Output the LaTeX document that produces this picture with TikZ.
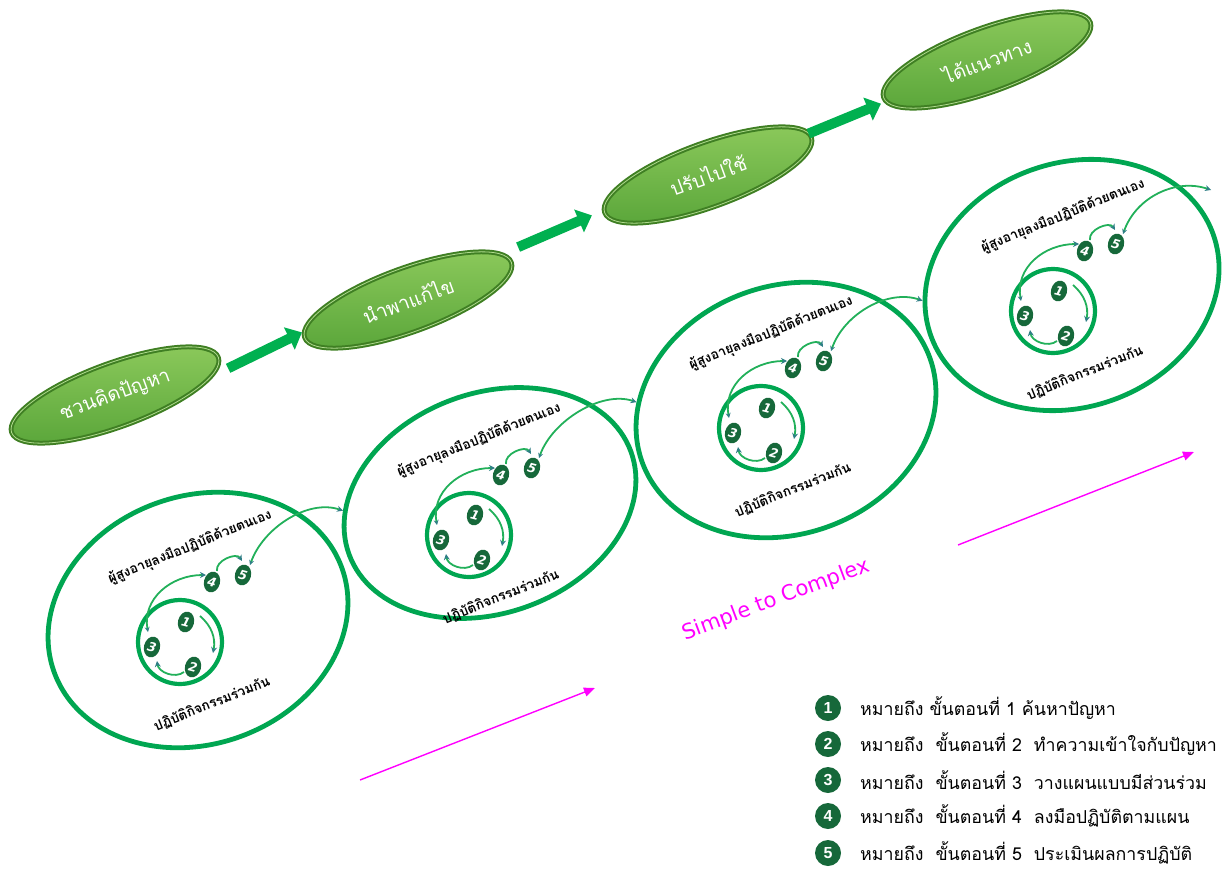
\documentclass[tikz,border=0pt]{standalone}
\usepackage{fontspec}
\setmainfont{Liberation Sans}
\newfontfamily\thai[Script=Thai]{Loma}
\newfontfamily\dejavu{DejaVu Sans}
\usetikzlibrary{shapes.geometric,arrows.meta,calc}

\definecolor{ringgreen}{HTML}{00A651}
\definecolor{flowgreen}{HTML}{22B05A}
\definecolor{tipblue}{HTML}{2F7F86}
\definecolor{badgegreen}{HTML}{16683A}
\definecolor{pilllight}{HTML}{8DCA5C}
\definecolor{pilldark}{HTML}{5AA63A}
\definecolor{pilledge}{HTML}{3F7F23}
\definecolor{bigarrowgreen}{HTML}{00B050}
\definecolor{mag}{HTML}{FF00FF}

\tikzset{
 bigring/.style={ellipse, draw=ringgreen, line width=4.8pt, inner sep=0pt, rotate=20},
 smallring/.style={circle, draw=ringgreen, line width=4.2pt, minimum size=84pt, inner sep=0pt},
 badge/.style={ellipse, fill=badgegreen, minimum width=16pt, minimum height=21pt, inner sep=0pt, rotate=-15, text=white, font=\dejavu\fontsize{12.5}{12.5}\selectfont\bfseries\itshape},
 unitlabel/.style={rotate=22, font=\thai\bfseries\fontsize{13.5}{14}\selectfont, inner sep=0pt},
 flow/.style={draw=flowgreen, line width=1.8pt, -{Stealth[length=6pt,width=6pt,color=tipblue]}},
 flowboth/.style={draw=flowgreen, line width=1.8pt, {Stealth[length=5pt,width=5pt,color=tipblue]}-{Stealth[length=6pt,width=6pt,color=tipblue]}},
 pill/.style={ellipse, rotate=20, minimum width=220pt, minimum height=64pt, top color=pilllight, bottom color=pilldark, draw=pilledge, line width=2pt, double=pilllight!70!white, double distance=0.8pt, text=white, font=\thai\fontsize{19.5}{19.5}\selectfont, inner sep=0pt},
 bigarrow/.style={draw=bigarrowgreen, line width=10pt, -{Triangle[length=14pt,width=24pt]}},
 magarrow/.style={draw=mag, line width=1.4pt, -{Triangle[length=11pt,width=9pt]}},
 legbadge/.style={circle, fill=badgegreen, minimum size=26pt, inner sep=0pt, text=white, font=\fontsize{16}{16}\selectfont\bfseries},
 legtext/.style={anchor=west, inner sep=0pt, font=\thai\fontsize{17.8}{17.8}\selectfont},
}

% one stage: #1 prefix, #2,#3 centre of small ring, #4 target of outgoing arrow
\newcommand\stageunit[4]{%
 \begin{scope}[shift={(#2,#3)}]
  \node[smallring] (#1c) at (0,0) {};
  \node[badge] (#1b1) at (6,-20) {1};
  \node[badge] (#1b2) at (13,25) {2};
  \node[badge] (#1b3) at (-28,5) {3};
  \node[badge] (#1b4) at (32,-60) {4};
  \node[badge] (#1b5) at (63,-67) {5};
  \node[unitlabel] (#1t) at (10,-95) {ผู้สูงอายุลงมือปฏิบัติด้วยตนเอง};
  \node[unitlabel] (#1l) at (32,62) {ปฏิบัติกิจกรรมร่วมกัน};
  \draw[flow] ([shift={(14,-6)}]#1b1.center) to[bend left=30] ([shift={(20,-14)}]#1b2.center);
  \draw[flow] ([shift={(-9,5)}]#1b2.center) to[bend left=60] ([shift={(5,14)}]#1b3.center);
  \draw[flowboth] ([shift={(-4,-15)}]#1b3.center) .. controls +(-6,-33) and +(-35,0) .. ([shift={(-6,-7)}]#1b4.center);
  \draw[flow] ([shift={(5,-11)}]#1b4.center) to[bend left=80] ([shift={(-1,-14)}]#1b5.center);
  \draw[flowboth] ([shift={(7,-10)}]#1b5.center) .. controls +(13,-37) and +(-35,-12) .. (#4);
 \end{scope}}

\begin{document}
\begin{tikzpicture}[x=1pt,y=-1pt]
\useasboundingbox (0,0) rectangle (1228,870);

% big stage rings
\node[bigring, minimum width=306pt, minimum height=248pt] (e1) at (198,620) {};
\node[bigring, minimum width=300pt, minimum height=220pt] (e2) at (490,503) {};
\node[bigring, minimum width=306pt, minimum height=248pt] (e3) at (786,410) {};
\node[bigring, minimum width=300pt, minimum height=244pt] (e4) at (1072,285) {};
\coordinate (exit4) at (1211,190);

\stageunit{u1}{180}{642}{e2.163}
\stageunit{u2}{469}{535}{e3.157}
\stageunit{u3}{761}{428}{e4.166}
\stageunit{u4}{1053}{311}{exit4}

% top pills
\node[pill] (p1) at (115,395) {ชวนคิดปัญหา};
\node[pill] (p2) at (408,300) {นำพาแก้ไข};
\node[pill] (p3) at (708,175) {ปรับไปใช้};
\node[pill] (p4) at (987,60) {ได้แนวทาง};

\draw[bigarrow] ($(p1)!0.386!(p2)+(0,10)$) -- ($(p1)!0.638!(p2)+(0,-2)$);
\draw[bigarrow] ($(p2)!0.367!(p3)+(0,-7)$) -- ($(p2)!0.613!(p3)+(0,-8)$);
\draw[bigarrow] ($(p3)!0.36!(p4)$) -- ($(p3)!0.62!(p4)$);

% simple to complex
\coordinate (m1s) at (360,780);
\coordinate (m1e) at (595,688);
\coordinate (m2s) at (958,545);
\coordinate (m2e) at (1194,452);
\draw[magarrow] (m1s) -- (m1e);
\draw[magarrow] (m2s) -- (m2e);
\node[rotate=20.5, text=mag, font=\dejavu\fontsize{21}{21}\selectfont, inner sep=0pt] (stc) at (776,600) {Simple to Complex};

% legend
\foreach \n/\y/\t in {1/708/{หมายถึง ขั้นตอนที่ 1 ค้นหาปัญหา},
  2/744/{หมายถึง\ \ ขั้นตอนที่ 2\ \ ทำความเข้าใจกับปัญหา},
  3/780/{หมายถึง\ \ ขั้นตอนที่ 3\ \ วางแผนแบบมีส่วนร่วม},
  4/816/{หมายถึง\ \ ขั้นตอนที่ 4\ \ ลงมือปฏิบัติตามแผน},
  5/853/{หมายถึง\ \ ขั้นตอนที่ 5\ \ ประเมินผลการปฏิบัติ}}{
  \node[legbadge] (lb\n) at (828,\y) {\n};
  \node[legtext] (lt\n) at (860,\y) {\t};
}
\end{tikzpicture}
\end{document}
